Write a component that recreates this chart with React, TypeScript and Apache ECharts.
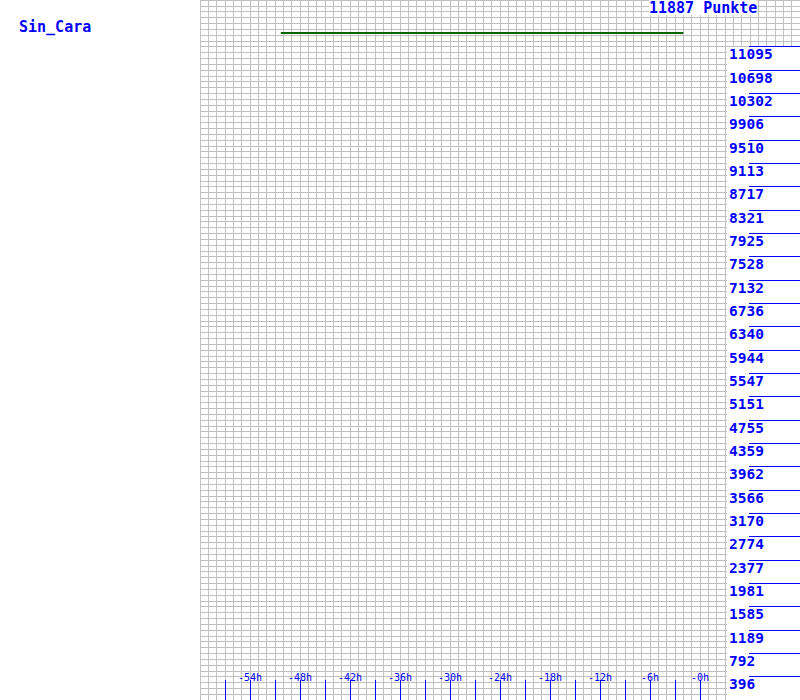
import React, { useEffect, useRef } from 'react';
import * as echarts from 'echarts';

// ---- data ----
const playerName = 'Sin_Cara';
const pointsTitle = '11887 Punkte';
const yAxisMax = 11887; // top of the value scale (30 label steps of 396.2)
const yStepCount = 120; // light grid rows
const hourMin = -60;
const hourMax = 12;
const labelHours = [-54, -48, -42, -36, -30, -24, -18, -12, -6, 0];
const hourLabels = ['-54h', '-48h', '-42h', '-36h', '-30h', '-24h', '-18h', '-12h', '-6h', '-0h'];
const tickHours = [-57, -54, -51, -48, -45, -42, -39, -36, -33, -30, -27, -24, -21, -18, -15, -12, -9, -6, -3, 0];
const yTickLabels = [
  '396', '792', '1189', '1585', '1981', '2377', '2774', '3170', '3566', '3962',
  '4359', '4755', '5151', '5547', '5944', '6340', '6736', '7132', '7528', '7925',
  '8321', '8717', '9113', '9510', '9906', '10302', '10698', '11095',
];
const seriesHours = [-50.3, -2];
const seriesPoints = [11326, 11326];

const BLUE = '#0000ff';
const GRID = '#c0c0c0';
const MONO = '"DejaVu Sans Mono", monospace';

export default function App() {
  const ref = useRef<HTMLDivElement>(null);
  useEffect(() => {
    if (!ref.current) return;
    const chart = echarts.init(ref.current, null, { renderer: 'svg' });

    const hourCats: string[] = [];
    for (let h = hourMin; h <= hourMax; h++) hourCats.push(String(h));
    const yCats: string[] = [];
    for (let i = 0; i <= yStepCount; i++) {
      const k = i / 4;
      yCats.push(i % 4 === 0 && k >= 1 && k <= yTickLabels.length ? yTickLabels[k - 1] : '');
    }
    const yShow = (i: number) => i % 4 === 0 && i >= 4 && i <= yTickLabels.length * 4;
    const hidden = { axisLine: { show: false }, axisTick: { show: false }, axisLabel: { show: false }, splitLine: { show: false } };

    chart.setOption({
      animation: false,
      backgroundColor: '#ffffff',
      grid: { left: 200, right: 0, top: 0, bottom: 0, containLabel: false },
      xAxis: [
        {
          type: 'category', data: hourCats, boundaryGap: false, z: 0, position: 'bottom',
          ...hidden,
          splitLine: { show: true, interval: 0, lineStyle: { color: GRID, width: 1 } },
        },
        {
          type: 'category', data: hourCats, boundaryGap: false, z: 5, position: 'bottom',
          ...hidden,
          axisLine: { show: false, lineStyle: { color: BLUE } },
          axisTick: {
            show: true, inside: true, length: 20,
            interval: (_i: number, v: string) => tickHours.includes(Number(v)),
            lineStyle: { color: BLUE, width: 1 },
          },
        },
        {
          type: 'category', data: hourCats, boundaryGap: false, z: 5, position: 'bottom',
          ...hidden,
          axisLabel: {
            show: true, inside: true, margin: 18,
            interval: (_i: number, v: string) => labelHours.includes(Number(v)),
            formatter: (v: string) => {
              const idx = labelHours.indexOf(Number(v));
              return idx >= 0 ? hourLabels[idx] : '';
            },
            color: BLUE, fontFamily: MONO, fontSize: 10,
          },
        },
        { type: 'value', min: hourMin, max: hourMax, show: false, position: 'bottom' },
      ],
      yAxis: [
        {
          type: 'category', data: yCats, boundaryGap: false, z: 0, position: 'left',
          ...hidden,
          splitLine: { show: true, interval: 0, lineStyle: { color: GRID, width: 1 } },
        },
        {
          type: 'category', data: yCats, boundaryGap: false, position: 'right', z: 5,
          ...hidden,
          axisLine: { show: false, lineStyle: { color: BLUE } },
          axisTick: {
            show: true, inside: true, length: 51,
            interval: (i: number) => yShow(i),
            lineStyle: { color: BLUE, width: 1 },
          },
          axisLabel: {
            show: true, inside: true, margin: 71, align: 'left', verticalAlign: 'top',
            interval: (i: number) => yShow(i),
            color: BLUE, fontFamily: MONO, fontSize: 14.5, fontWeight: 'bold',
          },
        },
        { type: 'value', min: 0, max: yAxisMax, show: false },
      ],
      graphic: [
        {
          type: 'rect', z: 1, silent: true,
          shape: { x: 727, y: 47, width: 73, height: 653 },
          style: { fill: '#ffffff' },
        },
        {
          type: 'text', z: 6, left: 19, top: 19,
          style: { text: playerName, fill: BLUE, font: `bold 15px ${MONO}` },
        },
        {
          type: 'text', z: 6, left: 649, top: 0,
          style: { text: pointsTitle, fill: BLUE, font: `bold 15px ${MONO}`, backgroundColor: '#ffffff' },
        },
      ],
      series: [
        {
          type: 'line', xAxisIndex: 3, yAxisIndex: 2, z: 4,
          data: seriesHours.map((h, i) => [h, seriesPoints[i]]),
          showSymbol: false, symbol: 'none',
          lineStyle: { color: '#006600', width: 2 },
        },
      ],
    });
    return () => chart.dispose();
  }, []);
  return (
    <div
      ref={ref}
      style={{ position: 'fixed', left: 0, top: 0, width: 800, height: 700 }}
    />
  );
}
